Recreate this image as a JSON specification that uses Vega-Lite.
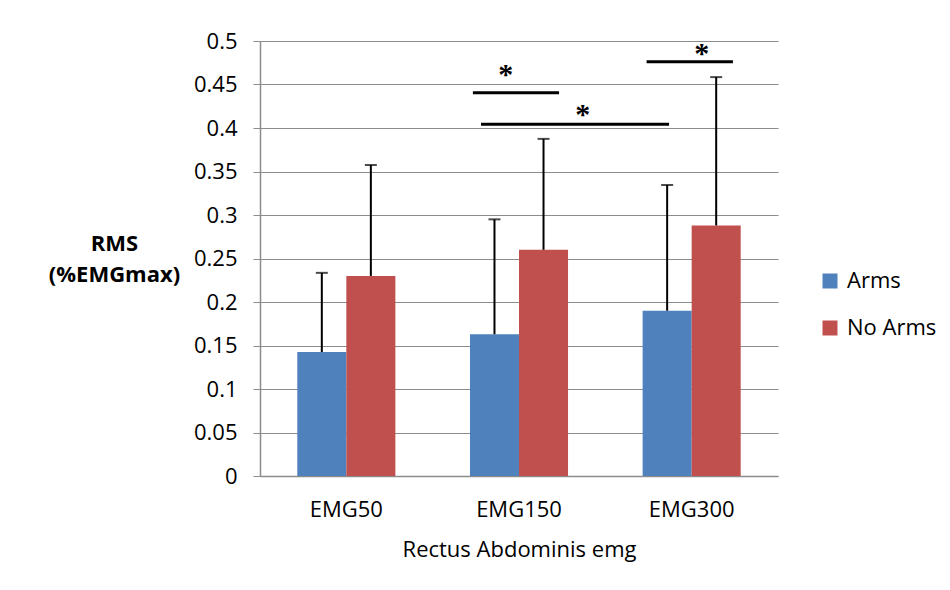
{
  "$schema": "https://vega.github.io/schema/vega-lite/v6.json",
  "width": 518,
  "height": 435,
  "autosize": {"type": "none"},
  "padding": {"left": 260, "top": 41, "right": 172, "bottom": 114},
  "background": "white",
  "config": {
    "view": {"stroke": null},
    "font": "Open Sans",
    "axis": {"labelFont": "Open Sans", "titleFont": "Open Sans", "labelColor": "#000", "titleColor": "#000"},
    "legend": {"labelFont": "Open Sans"}
  },
  "datasets": {
    "bars": [
      {"group": "EMG50", "series": "Arms", "value": 0.1425, "upper": 0.2335},
      {"group": "EMG50", "series": "No Arms", "value": 0.23, "upper": 0.3575},
      {"group": "EMG150", "series": "Arms", "value": 0.163, "upper": 0.295},
      {"group": "EMG150", "series": "No Arms", "value": 0.26, "upper": 0.3875},
      {"group": "EMG300", "series": "Arms", "value": 0.19, "upper": 0.3345},
      {"group": "EMG300", "series": "No Arms", "value": 0.288, "upper": 0.4585}
    ],
    "sig": [
      {"x1": 1.233, "x2": 1.732, "y": 0.4406, "sx": 1.423, "sy": 0.468},
      {"x1": 1.28, "x2": 2.369, "y": 0.4043, "sx": 1.869, "sy": 0.4218},
      {"x1": 2.239, "x2": 2.739, "y": 0.4762, "sx": 2.558, "sy": 0.492}
    ]
  },
  "resolve": {"scale": {"x": "independent"}},
  "layer": [
    {
      "data": {"name": "bars"},
      "layer": [
        {
          "mark": {"type": "bar"},
          "encoding": {
            "x": {
              "field": "group", "type": "nominal", "sort": ["EMG50", "EMG150", "EMG300"],
              "scale": {"paddingInner": 0.432, "paddingOuter": 0.216},
              "axis": {
                "title": "Rectus Abdominis emg", "labelAngle": 0, "ticks": false,
                "labelFontSize": 22, "titleFontSize": 22, "titleFontWeight": "normal",
                "labelPadding": 23, "titlePadding": 19,
                "domainColor": "#8c8c8c", "domainWidth": 1.5
              }
            },
            "xOffset": {"field": "series", "type": "nominal", "sort": ["Arms", "No Arms"], "scale": {"paddingInner": 0, "paddingOuter": 0}},
            "y": {
              "field": "value", "type": "quantitative",
              "scale": {"domain": [0, 0.5], "nice": false},
              "axis": {
                "values": [0, 0.05, 0.1, 0.15, 0.2, 0.25, 0.3, 0.35, 0.4, 0.45, 0.5],
                "format": "~g", "labelFontSize": 22, "tickSize": 7, "labelPadding": 16,
                "tickColor": "#8c8c8c", "domainColor": "#8c8c8c", "domainWidth": 1.5,
                "gridColor": "#8c8c8c", "gridWidth": 1.2,
                "title": ["RMS", "(%EMGmax)"], "titleAngle": 0, "titleFontSize": 22,
                "titleFontWeight": "bold", "titleAlign": "center", "titleBaseline": "alphabetic",
                "titleX": -146, "titleY": 209, "titleLineHeight": 31
              }
            },
            "color": {
              "field": "series", "type": "nominal",
              "scale": {"domain": ["Arms", "No Arms"], "range": ["#4F81BD", "#C0504D"]},
              "legend": {
                "title": null, "orient": "none", "legendX": 559, "legendY": 229,
                "symbolType": "square", "symbolSize": 225, "symbolStrokeWidth": 0,
                "labelFontSize": 22, "labelOffset": 6, "rowPadding": 25, "labelColor": "#000"
              }
            }
          }
        },
        {
          "mark": {"type": "rule", "color": "black", "strokeWidth": 2},
          "encoding": {
            "x": {"field": "group", "type": "nominal", "sort": ["EMG50", "EMG150", "EMG300"]},
            "xOffset": {"field": "series", "type": "nominal", "sort": ["Arms", "No Arms"]},
            "y": {"field": "value", "type": "quantitative"},
            "y2": {"field": "upper"}
          }
        },
        {
          "mark": {"type": "tick", "color": "black", "thickness": 2, "size": 12, "orient": "horizontal"},
          "encoding": {
            "x": {"field": "group", "type": "nominal", "sort": ["EMG50", "EMG150", "EMG300"]},
            "xOffset": {"field": "series", "type": "nominal", "sort": ["Arms", "No Arms"]},
            "y": {"field": "upper", "type": "quantitative"}
          }
        }
      ]
    },
    {
      "data": {"name": "sig"},
      "layer": [
        {
          "mark": {"type": "rule", "color": "black", "strokeWidth": 3},
          "encoding": {
            "x": {"field": "x1", "type": "quantitative", "scale": {"domain": [0, 3], "nice": false, "zero": false}, "axis": null},
            "x2": {"field": "x2"},
            "y": {"field": "y", "type": "quantitative"}
          }
        },
        {
          "mark": {"type": "text", "text": "*", "font": "Liberation Serif", "fontWeight": "bold", "fontSize": 30, "baseline": "middle", "dy": 6},
          "encoding": {
            "x": {"field": "sx", "type": "quantitative", "scale": {"domain": [0, 3], "nice": false, "zero": false}, "axis": null},
            "y": {"field": "sy", "type": "quantitative"}
          }
        }
      ]
    }
  ]
}
